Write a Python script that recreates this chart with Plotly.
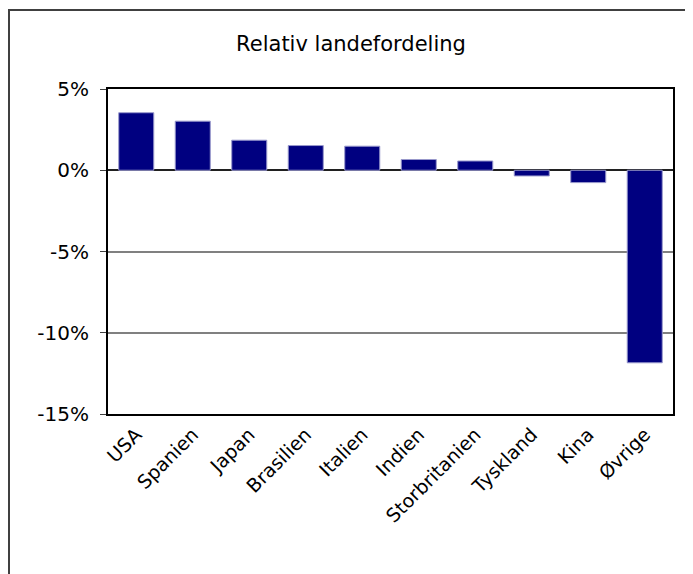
import plotly.graph_objects as go

categories = ["USA", "Spanien", "Japan", "Brasilien", "Italien", "Indien",
              "Storbritanien", "Tyskland", "Kina", "Øvrige"]
values = [3.54, 3.02, 1.85, 1.52, 1.48, 0.66, 0.57, -0.35, -0.76, -11.85]
y_ticks = [5, 0, -5, -10, -15]
y_labels = ["5%", "0%", "-5%", "-10%", "-15%"]

# page has an 8px body margin, so the figure is placed at (8, 8)
W, H = 685, 566
L, R, T, B = 100, 20, 81, 160
pw = W - L - R
ph = H - T - B

fig = go.Figure(go.Bar(
    x=categories, y=values,
    marker=dict(color="#000080", line=dict(color="#9999cc", width=1)),
    width=0.62,
))

font = "Verdana, DejaVu Sans, sans-serif"
fig.update_layout(
    width=W, height=H,
    margin=dict(l=L, r=R, t=T, b=B),
    paper_bgcolor="white", plot_bgcolor="white",
    showlegend=False,
    font=dict(family=font, size=20, color="black"),
    xaxis=dict(tickangle=-45, showgrid=False, showline=True, mirror=True,
               linecolor="black", linewidth=2, ticks="",
               tickfont=dict(size=19)),
    yaxis=dict(range=[-15, 5], tickvals=y_ticks, ticktext=y_labels,
               showgrid=True, gridcolor="#808080", gridwidth=1.5,
               zeroline=True, zerolinecolor="#202020", zerolinewidth=1.5,
               showline=True, mirror=True, linecolor="black", linewidth=2,
               ticks="outside", ticklen=6, tickcolor="#404040",
               ticklabelstandoff=7,
               tickfont=dict(size=20)),
    title=dict(text="Relativ landefordeling", x=343 / W, xanchor="center",
               y=1 - 36 / H, yanchor="middle", font=dict(size=21)),
)

# outer chart frame (only top & left edges visible)
x0 = (1 - L) / pw
y0 = 1 + (T - 2) / ph
fig.add_shape(type="rect", xref="paper", yref="paper",
              x0=x0, x1=1 + (R + 40) / pw, y0=-(B + 40) / ph, y1=y0,
              line=dict(color="#404040", width=2), layer="below")

fig.write_html("out.html", config={"displayModeBar": False})
